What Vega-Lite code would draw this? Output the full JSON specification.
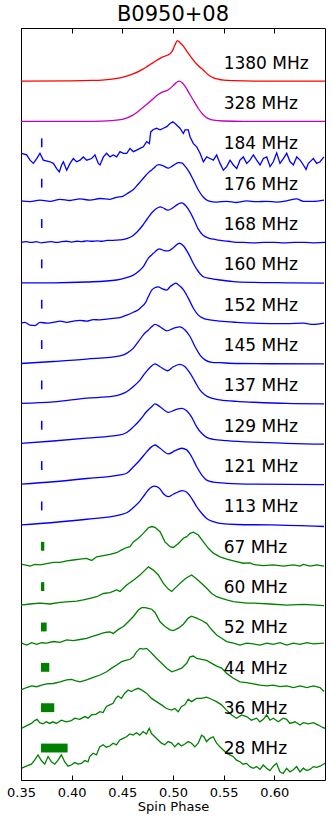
{
"$schema":"https://vega.github.io/schema/vega-lite/v6.json",
"width":304,"height":752,
"autosize":{"type":"none"},
"padding":{"left":21,"top":28,"right":7,"bottom":42},
"background":"white",
"config":{"view":{"stroke":"black","strokeWidth":1},"font":"DejaVu Sans"},
"title":{"text":"B0950+08","font":"DejaVu Sans","fontSize":21,"fontWeight":"normal","color":"black","anchor":"middle","offset":3},
"datasets":{
"p":[
{"f":"1380 MHz","x":0.35,"y":17.0},{"f":"1380 MHz","x":0.40,"y":17.005},{"f":"1380 MHz","x":0.42,"y":17.015},{"f":"1380 MHz","x":0.43,"y":17.025},{"f":"1380 MHz","x":0.44,"y":17.05},{"f":"1380 MHz","x":0.45,"y":17.09},{"f":"1380 MHz","x":0.46,"y":17.17},{"f":"1380 MHz","x":0.47,"y":17.29},{"f":"1380 MHz","x":0.475,"y":17.37},{"f":"1380 MHz","x":0.48,"y":17.45},{"f":"1380 MHz","x":0.485,"y":17.53},{"f":"1380 MHz","x":0.49,"y":17.6},{"f":"1380 MHz","x":0.495,"y":17.645},{"f":"1380 MHz","x":0.498,"y":17.7},{"f":"1380 MHz","x":0.5,"y":17.78},{"f":"1380 MHz","x":0.502,"y":17.9},{"f":"1380 MHz","x":0.5045,"y":18.0},{"f":"1380 MHz","x":0.507,"y":17.95},{"f":"1380 MHz","x":0.51,"y":17.87},{"f":"1380 MHz","x":0.515,"y":17.69},{"f":"1380 MHz","x":0.52,"y":17.52},{"f":"1380 MHz","x":0.525,"y":17.38},{"f":"1380 MHz","x":0.53,"y":17.27},{"f":"1380 MHz","x":0.535,"y":17.15},{"f":"1380 MHz","x":0.54,"y":17.08},{"f":"1380 MHz","x":0.545,"y":17.045},{"f":"1380 MHz","x":0.55,"y":17.025},{"f":"1380 MHz","x":0.56,"y":17.01},{"f":"1380 MHz","x":0.58,"y":17.0},{"f":"1380 MHz","x":0.65,"y":17.0},
{"f":"328 MHz","x":0.35,"y":16.0},{"f":"328 MHz","x":0.42,"y":16.0},{"f":"328 MHz","x":0.44,"y":16.02},{"f":"328 MHz","x":0.45,"y":16.05},{"f":"328 MHz","x":0.46,"y":16.15},{"f":"328 MHz","x":0.47,"y":16.34},{"f":"328 MHz","x":0.48,"y":16.55},{"f":"328 MHz","x":0.485,"y":16.66},{"f":"328 MHz","x":0.49,"y":16.73},{"f":"328 MHz","x":0.495,"y":16.78},{"f":"328 MHz","x":0.5,"y":16.88},{"f":"328 MHz","x":0.503,"y":16.96},{"f":"328 MHz","x":0.506,"y":17.0},{"f":"328 MHz","x":0.509,"y":16.96},{"f":"328 MHz","x":0.512,"y":16.87},{"f":"328 MHz","x":0.515,"y":16.74},{"f":"328 MHz","x":0.52,"y":16.53},{"f":"328 MHz","x":0.525,"y":16.32},{"f":"328 MHz","x":0.53,"y":16.16},{"f":"328 MHz","x":0.535,"y":16.07},{"f":"328 MHz","x":0.54,"y":16.03},{"f":"328 MHz","x":0.55,"y":16.01},{"f":"328 MHz","x":0.57,"y":16.0},{"f":"328 MHz","x":0.65,"y":16.0},
{"f":"184 MHz","x":0.3506,"y":15.21},{"f":"184 MHz","x":0.3556,"y":15.17},{"f":"184 MHz","x":0.3589,"y":15.04},{"f":"184 MHz","x":0.3622,"y":14.96},{"f":"184 MHz","x":0.3655,"y":15.08},{"f":"184 MHz","x":0.3687,"y":15.21},{"f":"184 MHz","x":0.372,"y":15.04},{"f":"184 MHz","x":0.3786,"y":15.0},{"f":"184 MHz","x":0.3819,"y":14.96},{"f":"184 MHz","x":0.3852,"y":14.83},{"f":"184 MHz","x":0.3878,"y":14.75},{"f":"184 MHz","x":0.3901,"y":14.92},{"f":"184 MHz","x":0.3918,"y":15.0},{"f":"184 MHz","x":0.3951,"y":14.79},{"f":"184 MHz","x":0.3984,"y":14.96},{"f":"184 MHz","x":0.4016,"y":15.08},{"f":"184 MHz","x":0.4049,"y":15.0},{"f":"184 MHz","x":0.4082,"y":15.04},{"f":"184 MHz","x":0.4115,"y":15.12},{"f":"184 MHz","x":0.4148,"y":15.04},{"f":"184 MHz","x":0.4197,"y":15.08},{"f":"184 MHz","x":0.423,"y":15.17},{"f":"184 MHz","x":0.4263,"y":14.96},{"f":"184 MHz","x":0.428,"y":14.92},{"f":"184 MHz","x":0.4313,"y":15.12},{"f":"184 MHz","x":0.4345,"y":15.21},{"f":"184 MHz","x":0.4378,"y":15.12},{"f":"184 MHz","x":0.4411,"y":15.17},{"f":"184 MHz","x":0.4444,"y":15.12},{"f":"184 MHz","x":0.4477,"y":15.25},{"f":"184 MHz","x":0.451,"y":15.21},{"f":"184 MHz","x":0.4543,"y":15.21},{"f":"184 MHz","x":0.4576,"y":15.33},{"f":"184 MHz","x":0.4609,"y":15.25},{"f":"184 MHz","x":0.4642,"y":15.29},{"f":"184 MHz","x":0.4674,"y":15.33},{"f":"184 MHz","x":0.4707,"y":15.37},{"f":"184 MHz","x":0.474,"y":15.5},{"f":"184 MHz","x":0.4767,"y":15.45},{"f":"184 MHz","x":0.478,"y":15.74},{"f":"184 MHz","x":0.4806,"y":15.8},{"f":"184 MHz","x":0.4839,"y":15.83},{"f":"184 MHz","x":0.4872,"y":15.79},{"f":"184 MHz","x":0.4905,"y":15.83},{"f":"184 MHz","x":0.4938,"y":15.87},{"f":"184 MHz","x":0.4971,"y":15.95},{"f":"184 MHz","x":0.4997,"y":15.99},{"f":"184 MHz","x":0.502,"y":15.95},{"f":"184 MHz","x":0.5036,"y":15.91},{"f":"184 MHz","x":0.5069,"y":15.83},{"f":"184 MHz","x":0.5102,"y":15.7},{"f":"184 MHz","x":0.5119,"y":15.79},{"f":"184 MHz","x":0.5151,"y":15.79},{"f":"184 MHz","x":0.5168,"y":15.62},{"f":"184 MHz","x":0.5201,"y":15.45},{"f":"184 MHz","x":0.5234,"y":15.37},{"f":"184 MHz","x":0.5267,"y":15.21},{"f":"184 MHz","x":0.53,"y":15.0},{"f":"184 MHz","x":0.5332,"y":15.12},{"f":"184 MHz","x":0.5365,"y":15.08},{"f":"184 MHz","x":0.5398,"y":15.04},{"f":"184 MHz","x":0.5431,"y":15.17},{"f":"184 MHz","x":0.5464,"y":14.96},{"f":"184 MHz","x":0.5497,"y":14.79},{"f":"184 MHz","x":0.553,"y":14.88},{"f":"184 MHz","x":0.5563,"y":15.04},{"f":"184 MHz","x":0.5596,"y":14.92},{"f":"184 MHz","x":0.5629,"y":14.83},{"f":"184 MHz","x":0.5661,"y":15.04},{"f":"184 MHz","x":0.5694,"y":15.12},{"f":"184 MHz","x":0.5727,"y":14.96},{"f":"184 MHz","x":0.576,"y":15.04},{"f":"184 MHz","x":0.5793,"y":15.17},{"f":"184 MHz","x":0.5826,"y":15.04},{"f":"184 MHz","x":0.5859,"y":14.92},{"f":"184 MHz","x":0.5892,"y":15.08},{"f":"184 MHz","x":0.5925,"y":15.12},{"f":"184 MHz","x":0.5958,"y":14.88},{"f":"184 MHz","x":0.599,"y":15.0},{"f":"184 MHz","x":0.6023,"y":15.22},{"f":"184 MHz","x":0.6056,"y":14.96},{"f":"184 MHz","x":0.6089,"y":15.08},{"f":"184 MHz","x":0.6122,"y":15.21},{"f":"184 MHz","x":0.6155,"y":15.0},{"f":"184 MHz","x":0.6188,"y":14.92},{"f":"184 MHz","x":0.6221,"y":15.12},{"f":"184 MHz","x":0.6254,"y":15.04},{"f":"184 MHz","x":0.6287,"y":14.92},{"f":"184 MHz","x":0.6313,"y":14.81},{"f":"184 MHz","x":0.6336,"y":14.96},{"f":"184 MHz","x":0.6369,"y":15.04},{"f":"184 MHz","x":0.6385,"y":15.08},{"f":"184 MHz","x":0.6418,"y":14.96},{"f":"184 MHz","x":0.6451,"y":15.0},{"f":"184 MHz","x":0.649,"y":15.12},
{"f":"176 MHz","x":0.35,"y":14.03},{"f":"176 MHz","x":0.3589,"y":14.01},{"f":"176 MHz","x":0.3687,"y":14.05},{"f":"176 MHz","x":0.3786,"y":14.02},{"f":"176 MHz","x":0.3885,"y":14.07},{"f":"176 MHz","x":0.3984,"y":14.04},{"f":"176 MHz","x":0.4082,"y":14.08},{"f":"176 MHz","x":0.4181,"y":14.05},{"f":"176 MHz","x":0.428,"y":14.09},{"f":"176 MHz","x":0.4378,"y":14.07},{"f":"176 MHz","x":0.4444,"y":14.12},{"f":"176 MHz","x":0.451,"y":14.15},{"f":"176 MHz","x":0.4559,"y":14.23},{"f":"176 MHz","x":0.4609,"y":14.31},{"f":"176 MHz","x":0.4658,"y":14.45},{"f":"176 MHz","x":0.4707,"y":14.59},{"f":"176 MHz","x":0.4757,"y":14.73},{"f":"176 MHz","x":0.4806,"y":14.83},{"f":"176 MHz","x":0.4855,"y":14.93},{"f":"176 MHz","x":0.4905,"y":14.9},{"f":"176 MHz","x":0.4954,"y":14.84},{"f":"176 MHz","x":0.5003,"y":14.91},{"f":"176 MHz","x":0.5053,"y":14.98},{"f":"176 MHz","x":0.5086,"y":14.97},{"f":"176 MHz","x":0.5119,"y":14.89},{"f":"176 MHz","x":0.5151,"y":14.78},{"f":"176 MHz","x":0.5201,"y":14.55},{"f":"176 MHz","x":0.525,"y":14.3},{"f":"176 MHz","x":0.53,"y":14.12},{"f":"176 MHz","x":0.5349,"y":14.03},{"f":"176 MHz","x":0.5431,"y":14.0},{"f":"176 MHz","x":0.553,"y":14.02},{"f":"176 MHz","x":0.5629,"y":13.99},{"f":"176 MHz","x":0.5727,"y":14.03},{"f":"176 MHz","x":0.5826,"y":14.01},{"f":"176 MHz","x":0.5925,"y":14.02},{"f":"176 MHz","x":0.6023,"y":14.0},{"f":"176 MHz","x":0.6122,"y":14.03},{"f":"176 MHz","x":0.6221,"y":14.08},{"f":"176 MHz","x":0.6287,"y":14.02},{"f":"176 MHz","x":0.6385,"y":14.02},{"f":"176 MHz","x":0.649,"y":14.05},
{"f":"168 MHz","x":0.35,"y":13.0},{"f":"168 MHz","x":0.355,"y":13.02},{"f":"168 MHz","x":0.36,"y":13.0},{"f":"168 MHz","x":0.365,"y":13.02},{"f":"168 MHz","x":0.37,"y":12.99},{"f":"168 MHz","x":0.375,"y":13.01},{"f":"168 MHz","x":0.38,"y":13.02},{"f":"168 MHz","x":0.385,"y":13.0},{"f":"168 MHz","x":0.39,"y":13.02},{"f":"168 MHz","x":0.395,"y":13.03},{"f":"168 MHz","x":0.4,"y":13.01},{"f":"168 MHz","x":0.405,"y":13.03},{"f":"168 MHz","x":0.41,"y":13.02},{"f":"168 MHz","x":0.415,"y":13.04},{"f":"168 MHz","x":0.42,"y":13.03},{"f":"168 MHz","x":0.425,"y":13.04},{"f":"168 MHz","x":0.43,"y":13.03},{"f":"168 MHz","x":0.435,"y":13.05},{"f":"168 MHz","x":0.44,"y":13.05},{"f":"168 MHz","x":0.445,"y":13.06},{"f":"168 MHz","x":0.45,"y":13.07},{"f":"168 MHz","x":0.455,"y":13.1},{"f":"168 MHz","x":0.46,"y":13.16},{"f":"168 MHz","x":0.465,"y":13.27},{"f":"168 MHz","x":0.47,"y":13.42},{"f":"168 MHz","x":0.475,"y":13.6},{"f":"168 MHz","x":0.48,"y":13.76},{"f":"168 MHz","x":0.485,"y":13.86},{"f":"168 MHz","x":0.4875,"y":13.88},{"f":"168 MHz","x":0.49,"y":13.86},{"f":"168 MHz","x":0.495,"y":13.8},{"f":"168 MHz","x":0.5,"y":13.86},{"f":"168 MHz","x":0.505,"y":13.95},{"f":"168 MHz","x":0.5085,"y":13.98},{"f":"168 MHz","x":0.511,"y":13.95},{"f":"168 MHz","x":0.515,"y":13.83},{"f":"168 MHz","x":0.52,"y":13.6},{"f":"168 MHz","x":0.525,"y":13.33},{"f":"168 MHz","x":0.53,"y":13.17},{"f":"168 MHz","x":0.535,"y":13.11},{"f":"168 MHz","x":0.54,"y":13.08},{"f":"168 MHz","x":0.545,"y":13.06},{"f":"168 MHz","x":0.55,"y":13.04},{"f":"168 MHz","x":0.555,"y":13.03},{"f":"168 MHz","x":0.56,"y":13.01},{"f":"168 MHz","x":0.57,"y":13.0},{"f":"168 MHz","x":0.58,"y":12.99},{"f":"168 MHz","x":0.59,"y":13.0},{"f":"168 MHz","x":0.6,"y":13.0},{"f":"168 MHz","x":0.61,"y":12.99},{"f":"168 MHz","x":0.62,"y":13.0},{"f":"168 MHz","x":0.63,"y":13.0},{"f":"168 MHz","x":0.64,"y":12.99},{"f":"168 MHz","x":0.65,"y":13.0},
{"f":"160 MHz","x":0.35,"y":12.0},{"f":"160 MHz","x":0.382,"y":12.0},{"f":"160 MHz","x":0.4148,"y":12.02},{"f":"160 MHz","x":0.4444,"y":12.07},{"f":"160 MHz","x":0.4543,"y":12.13},{"f":"160 MHz","x":0.4609,"y":12.19},{"f":"160 MHz","x":0.4658,"y":12.28},{"f":"160 MHz","x":0.4707,"y":12.4},{"f":"160 MHz","x":0.4757,"y":12.61},{"f":"160 MHz","x":0.4806,"y":12.73},{"f":"160 MHz","x":0.4865,"y":12.84},{"f":"160 MHz","x":0.4911,"y":12.8},{"f":"160 MHz","x":0.4954,"y":12.79},{"f":"160 MHz","x":0.5003,"y":12.87},{"f":"160 MHz","x":0.5063,"y":12.98},{"f":"160 MHz","x":0.5102,"y":12.92},{"f":"160 MHz","x":0.5151,"y":12.73},{"f":"160 MHz","x":0.5201,"y":12.48},{"f":"160 MHz","x":0.525,"y":12.28},{"f":"160 MHz","x":0.53,"y":12.15},{"f":"160 MHz","x":0.5365,"y":12.11},{"f":"160 MHz","x":0.5464,"y":12.07},{"f":"160 MHz","x":0.5596,"y":12.03},{"f":"160 MHz","x":0.5793,"y":12.01},{"f":"160 MHz","x":0.6122,"y":12.0},{"f":"160 MHz","x":0.649,"y":11.99},
{"f":"152 MHz","x":0.35,"y":11.0},{"f":"152 MHz","x":0.3539,"y":11.02},{"f":"152 MHz","x":0.3589,"y":10.95},{"f":"152 MHz","x":0.3638,"y":10.94},{"f":"152 MHz","x":0.3687,"y":11.02},{"f":"152 MHz","x":0.3753,"y":11.0},{"f":"152 MHz","x":0.3819,"y":11.02},{"f":"152 MHz","x":0.3885,"y":11.05},{"f":"152 MHz","x":0.3951,"y":11.02},{"f":"152 MHz","x":0.4016,"y":11.05},{"f":"152 MHz","x":0.4082,"y":11.07},{"f":"152 MHz","x":0.4148,"y":11.05},{"f":"152 MHz","x":0.4214,"y":11.09},{"f":"152 MHz","x":0.428,"y":11.08},{"f":"152 MHz","x":0.4345,"y":11.1},{"f":"152 MHz","x":0.4411,"y":11.12},{"f":"152 MHz","x":0.4477,"y":11.14},{"f":"152 MHz","x":0.4543,"y":11.2},{"f":"152 MHz","x":0.4609,"y":11.27},{"f":"152 MHz","x":0.4658,"y":11.33},{"f":"152 MHz","x":0.4691,"y":11.41},{"f":"152 MHz","x":0.4724,"y":11.49},{"f":"152 MHz","x":0.4757,"y":11.66},{"f":"152 MHz","x":0.479,"y":11.82},{"f":"152 MHz","x":0.4822,"y":11.88},{"f":"152 MHz","x":0.4855,"y":11.9},{"f":"152 MHz","x":0.4888,"y":11.86},{"f":"152 MHz","x":0.4938,"y":11.82},{"f":"152 MHz","x":0.4971,"y":11.9},{"f":"152 MHz","x":0.5003,"y":11.96},{"f":"152 MHz","x":0.5026,"y":11.99},{"f":"152 MHz","x":0.5053,"y":11.95},{"f":"152 MHz","x":0.5102,"y":11.83},{"f":"152 MHz","x":0.5151,"y":11.62},{"f":"152 MHz","x":0.5201,"y":11.37},{"f":"152 MHz","x":0.525,"y":11.2},{"f":"152 MHz","x":0.53,"y":11.12},{"f":"152 MHz","x":0.5365,"y":11.08},{"f":"152 MHz","x":0.5464,"y":11.05},{"f":"152 MHz","x":0.5629,"y":11.02},{"f":"152 MHz","x":0.5793,"y":11.0},{"f":"152 MHz","x":0.5958,"y":10.99},{"f":"152 MHz","x":0.6122,"y":10.99},{"f":"152 MHz","x":0.6287,"y":11.0},{"f":"152 MHz","x":0.6385,"y":10.97},{"f":"152 MHz","x":0.649,"y":11.0},
{"f":"145 MHz","x":0.35,"y":10.0},{"f":"145 MHz","x":0.3819,"y":10.05},{"f":"145 MHz","x":0.4148,"y":10.11},{"f":"145 MHz","x":0.4477,"y":10.19},{"f":"145 MHz","x":0.4543,"y":10.25},{"f":"145 MHz","x":0.4609,"y":10.38},{"f":"145 MHz","x":0.4658,"y":10.54},{"f":"145 MHz","x":0.4707,"y":10.71},{"f":"145 MHz","x":0.4757,"y":10.83},{"f":"145 MHz","x":0.479,"y":10.91},{"f":"145 MHz","x":0.4822,"y":10.97},{"f":"145 MHz","x":0.4872,"y":10.91},{"f":"145 MHz","x":0.4938,"y":10.81},{"f":"145 MHz","x":0.5003,"y":10.87},{"f":"145 MHz","x":0.5069,"y":10.91},{"f":"145 MHz","x":0.5119,"y":10.83},{"f":"145 MHz","x":0.5168,"y":10.67},{"f":"145 MHz","x":0.5217,"y":10.42},{"f":"145 MHz","x":0.5267,"y":10.21},{"f":"145 MHz","x":0.5316,"y":10.09},{"f":"145 MHz","x":0.5382,"y":10.03},{"f":"145 MHz","x":0.5464,"y":10.02},{"f":"145 MHz","x":0.5629,"y":10.0},{"f":"145 MHz","x":0.649,"y":9.99},
{"f":"137 MHz","x":0.35,"y":9.01},{"f":"137 MHz","x":0.3819,"y":9.05},{"f":"137 MHz","x":0.4148,"y":9.14},{"f":"137 MHz","x":0.4411,"y":9.19},{"f":"137 MHz","x":0.4477,"y":9.23},{"f":"137 MHz","x":0.4543,"y":9.3},{"f":"137 MHz","x":0.4609,"y":9.43},{"f":"137 MHz","x":0.4674,"y":9.59},{"f":"137 MHz","x":0.4724,"y":9.76},{"f":"137 MHz","x":0.4773,"y":9.9},{"f":"137 MHz","x":0.4822,"y":9.99},{"f":"137 MHz","x":0.4872,"y":9.92},{"f":"137 MHz","x":0.4948,"y":9.82},{"f":"137 MHz","x":0.5003,"y":9.92},{"f":"137 MHz","x":0.5069,"y":9.98},{"f":"137 MHz","x":0.5119,"y":9.92},{"f":"137 MHz","x":0.5168,"y":9.76},{"f":"137 MHz","x":0.5217,"y":9.55},{"f":"137 MHz","x":0.5267,"y":9.34},{"f":"137 MHz","x":0.5316,"y":9.22},{"f":"137 MHz","x":0.5382,"y":9.14},{"f":"137 MHz","x":0.5464,"y":9.1},{"f":"137 MHz","x":0.5629,"y":9.06},{"f":"137 MHz","x":0.5793,"y":9.04},{"f":"137 MHz","x":0.6122,"y":9.01},{"f":"137 MHz","x":0.649,"y":9.0},
{"f":"129 MHz","x":0.35,"y":8.02},{"f":"129 MHz","x":0.3819,"y":8.08},{"f":"129 MHz","x":0.4148,"y":8.15},{"f":"129 MHz","x":0.4477,"y":8.23},{"f":"129 MHz","x":0.4543,"y":8.29},{"f":"129 MHz","x":0.4609,"y":8.43},{"f":"129 MHz","x":0.4674,"y":8.6},{"f":"129 MHz","x":0.474,"y":8.81},{"f":"129 MHz","x":0.479,"y":8.93},{"f":"129 MHz","x":0.4822,"y":9.0},{"f":"129 MHz","x":0.4872,"y":8.93},{"f":"129 MHz","x":0.4954,"y":8.79},{"f":"129 MHz","x":0.502,"y":8.85},{"f":"129 MHz","x":0.5086,"y":8.89},{"f":"129 MHz","x":0.5135,"y":8.83},{"f":"129 MHz","x":0.5184,"y":8.67},{"f":"129 MHz","x":0.5234,"y":8.43},{"f":"129 MHz","x":0.5283,"y":8.27},{"f":"129 MHz","x":0.5332,"y":8.17},{"f":"129 MHz","x":0.5398,"y":8.12},{"f":"129 MHz","x":0.553,"y":8.09},{"f":"129 MHz","x":0.5793,"y":8.05},{"f":"129 MHz","x":0.6122,"y":8.02},{"f":"129 MHz","x":0.649,"y":8.0},
{"f":"121 MHz","x":0.35,"y":7.01},{"f":"121 MHz","x":0.3819,"y":7.07},{"f":"121 MHz","x":0.4148,"y":7.15},{"f":"121 MHz","x":0.4477,"y":7.24},{"f":"121 MHz","x":0.4543,"y":7.28},{"f":"121 MHz","x":0.4609,"y":7.44},{"f":"121 MHz","x":0.4674,"y":7.61},{"f":"121 MHz","x":0.474,"y":7.81},{"f":"121 MHz","x":0.479,"y":7.94},{"f":"121 MHz","x":0.4822,"y":7.98},{"f":"121 MHz","x":0.4872,"y":7.9},{"f":"121 MHz","x":0.4954,"y":7.76},{"f":"121 MHz","x":0.502,"y":7.84},{"f":"121 MHz","x":0.5086,"y":7.9},{"f":"121 MHz","x":0.5135,"y":7.86},{"f":"121 MHz","x":0.5184,"y":7.69},{"f":"121 MHz","x":0.5234,"y":7.44},{"f":"121 MHz","x":0.5283,"y":7.24},{"f":"121 MHz","x":0.5332,"y":7.11},{"f":"121 MHz","x":0.5398,"y":7.06},{"f":"121 MHz","x":0.553,"y":7.03},{"f":"121 MHz","x":0.5793,"y":7.01},{"f":"121 MHz","x":0.649,"y":7.0},
{"f":"113 MHz","x":0.35,"y":6.0},{"f":"113 MHz","x":0.3819,"y":6.06},{"f":"113 MHz","x":0.4148,"y":6.14},{"f":"113 MHz","x":0.4477,"y":6.25},{"f":"113 MHz","x":0.4543,"y":6.3},{"f":"113 MHz","x":0.4609,"y":6.43},{"f":"113 MHz","x":0.4674,"y":6.59},{"f":"113 MHz","x":0.4724,"y":6.76},{"f":"113 MHz","x":0.4773,"y":6.91},{"f":"113 MHz","x":0.4816,"y":6.96},{"f":"113 MHz","x":0.4865,"y":6.91},{"f":"113 MHz","x":0.4911,"y":6.76},{"f":"113 MHz","x":0.4954,"y":6.7},{"f":"113 MHz","x":0.5003,"y":6.76},{"f":"113 MHz","x":0.5053,"y":6.82},{"f":"113 MHz","x":0.5092,"y":6.85},{"f":"113 MHz","x":0.5135,"y":6.81},{"f":"113 MHz","x":0.5184,"y":6.66},{"f":"113 MHz","x":0.5234,"y":6.45},{"f":"113 MHz","x":0.5283,"y":6.29},{"f":"113 MHz","x":0.5332,"y":6.16},{"f":"113 MHz","x":0.5398,"y":6.08},{"f":"113 MHz","x":0.5464,"y":6.04},{"f":"113 MHz","x":0.5629,"y":6.01},{"f":"113 MHz","x":0.5958,"y":6.0},{"f":"113 MHz","x":0.649,"y":5.96},
{"f":"67 MHz","x":0.3506,"y":5.02},{"f":"67 MHz","x":0.3539,"y":5.01},{"f":"67 MHz","x":0.3589,"y":4.98},{"f":"67 MHz","x":0.3638,"y":5.02},{"f":"67 MHz","x":0.3687,"y":5.01},{"f":"67 MHz","x":0.3753,"y":5.04},{"f":"67 MHz","x":0.3819,"y":5.07},{"f":"67 MHz","x":0.3885,"y":5.07},{"f":"67 MHz","x":0.3951,"y":5.11},{"f":"67 MHz","x":0.4016,"y":5.13},{"f":"67 MHz","x":0.4082,"y":5.15},{"f":"67 MHz","x":0.4148,"y":5.17},{"f":"67 MHz","x":0.4197,"y":5.12},{"f":"67 MHz","x":0.4247,"y":5.21},{"f":"67 MHz","x":0.4313,"y":5.24},{"f":"67 MHz","x":0.4378,"y":5.27},{"f":"67 MHz","x":0.4444,"y":5.31},{"f":"67 MHz","x":0.4493,"y":5.38},{"f":"67 MHz","x":0.4543,"y":5.44},{"f":"67 MHz","x":0.4576,"y":5.46},{"f":"67 MHz","x":0.4609,"y":5.58},{"f":"67 MHz","x":0.4658,"y":5.67},{"f":"67 MHz","x":0.4707,"y":5.79},{"f":"67 MHz","x":0.4757,"y":5.93},{"f":"67 MHz","x":0.479,"y":5.96},{"f":"67 MHz","x":0.4822,"y":5.94},{"f":"67 MHz","x":0.4872,"y":5.83},{"f":"67 MHz","x":0.4921,"y":5.58},{"f":"67 MHz","x":0.4971,"y":5.46},{"f":"67 MHz","x":0.5003,"y":5.44},{"f":"67 MHz","x":0.5053,"y":5.54},{"f":"67 MHz","x":0.5102,"y":5.67},{"f":"67 MHz","x":0.5135,"y":5.71},{"f":"67 MHz","x":0.5168,"y":5.79},{"f":"67 MHz","x":0.5201,"y":5.82},{"f":"67 MHz","x":0.525,"y":5.75},{"f":"67 MHz","x":0.53,"y":5.58},{"f":"67 MHz","x":0.5349,"y":5.42},{"f":"67 MHz","x":0.5398,"y":5.3},{"f":"67 MHz","x":0.5464,"y":5.21},{"f":"67 MHz","x":0.553,"y":5.15},{"f":"67 MHz","x":0.5596,"y":5.11},{"f":"67 MHz","x":0.5694,"y":5.05},{"f":"67 MHz","x":0.576,"y":5.06},{"f":"67 MHz","x":0.5793,"y":5.02},{"f":"67 MHz","x":0.589,"y":4.99},{"f":"67 MHz","x":0.599,"y":5.01},{"f":"67 MHz","x":0.6089,"y":4.98},{"f":"67 MHz","x":0.6188,"y":5.01},{"f":"67 MHz","x":0.6254,"y":4.98},{"f":"67 MHz","x":0.6287,"y":5.02},{"f":"67 MHz","x":0.6352,"y":4.98},{"f":"67 MHz","x":0.6418,"y":5.01},{"f":"67 MHz","x":0.649,"y":4.98},
{"f":"60 MHz","x":0.35,"y":4.01},{"f":"60 MHz","x":0.3589,"y":4.04},{"f":"60 MHz","x":0.3687,"y":4.06},{"f":"60 MHz","x":0.3786,"y":4.04},{"f":"60 MHz","x":0.3885,"y":4.08},{"f":"60 MHz","x":0.3984,"y":4.1},{"f":"60 MHz","x":0.4049,"y":4.11},{"f":"60 MHz","x":0.4115,"y":4.14},{"f":"60 MHz","x":0.4181,"y":4.18},{"f":"60 MHz","x":0.4247,"y":4.22},{"f":"60 MHz","x":0.4313,"y":4.3},{"f":"60 MHz","x":0.4378,"y":4.32},{"f":"60 MHz","x":0.4444,"y":4.39},{"f":"60 MHz","x":0.4477,"y":4.35},{"f":"60 MHz","x":0.4543,"y":4.51},{"f":"60 MHz","x":0.4609,"y":4.63},{"f":"60 MHz","x":0.4674,"y":4.76},{"f":"60 MHz","x":0.4724,"y":4.88},{"f":"60 MHz","x":0.4757,"y":4.96},{"f":"60 MHz","x":0.4806,"y":4.88},{"f":"60 MHz","x":0.4855,"y":4.76},{"f":"60 MHz","x":0.4905,"y":4.55},{"f":"60 MHz","x":0.4954,"y":4.41},{"f":"60 MHz","x":0.4987,"y":4.35},{"f":"60 MHz","x":0.5036,"y":4.47},{"f":"60 MHz","x":0.5086,"y":4.59},{"f":"60 MHz","x":0.5135,"y":4.69},{"f":"60 MHz","x":0.5184,"y":4.76},{"f":"60 MHz","x":0.5234,"y":4.66},{"f":"60 MHz","x":0.5283,"y":4.55},{"f":"60 MHz","x":0.5332,"y":4.43},{"f":"60 MHz","x":0.5382,"y":4.3},{"f":"60 MHz","x":0.5431,"y":4.22},{"f":"60 MHz","x":0.548,"y":4.18},{"f":"60 MHz","x":0.553,"y":4.14},{"f":"60 MHz","x":0.5596,"y":4.1},{"f":"60 MHz","x":0.5661,"y":4.08},{"f":"60 MHz","x":0.5727,"y":4.06},{"f":"60 MHz","x":0.5793,"y":4.06},{"f":"60 MHz","x":0.5958,"y":4.04},{"f":"60 MHz","x":0.6122,"y":4.01},{"f":"60 MHz","x":0.6287,"y":4.03},{"f":"60 MHz","x":0.649,"y":4.0},
{"f":"52 MHz","x":0.3506,"y":3.07},{"f":"52 MHz","x":0.3556,"y":3.02},{"f":"52 MHz","x":0.3605,"y":3.08},{"f":"52 MHz","x":0.3655,"y":3.04},{"f":"52 MHz","x":0.3704,"y":3.08},{"f":"52 MHz","x":0.3753,"y":3.07},{"f":"52 MHz","x":0.3819,"y":3.11},{"f":"52 MHz","x":0.3885,"y":3.09},{"f":"52 MHz","x":0.3951,"y":3.15},{"f":"52 MHz","x":0.4016,"y":3.13},{"f":"52 MHz","x":0.4082,"y":3.16},{"f":"52 MHz","x":0.4148,"y":3.19},{"f":"52 MHz","x":0.4197,"y":3.23},{"f":"52 MHz","x":0.4247,"y":3.27},{"f":"52 MHz","x":0.4296,"y":3.31},{"f":"52 MHz","x":0.4345,"y":3.34},{"f":"52 MHz","x":0.4378,"y":3.35},{"f":"52 MHz","x":0.4411,"y":3.31},{"f":"52 MHz","x":0.4461,"y":3.41},{"f":"52 MHz","x":0.451,"y":3.48},{"f":"52 MHz","x":0.4559,"y":3.6},{"f":"52 MHz","x":0.4609,"y":3.73},{"f":"52 MHz","x":0.4658,"y":3.89},{"f":"52 MHz","x":0.4691,"y":3.95},{"f":"52 MHz","x":0.4724,"y":3.95},{"f":"52 MHz","x":0.4757,"y":3.93},{"f":"52 MHz","x":0.479,"y":3.91},{"f":"52 MHz","x":0.4822,"y":3.83},{"f":"52 MHz","x":0.4872,"y":3.6},{"f":"52 MHz","x":0.4921,"y":3.48},{"f":"52 MHz","x":0.4971,"y":3.4},{"f":"52 MHz","x":0.5003,"y":3.38},{"f":"52 MHz","x":0.5053,"y":3.44},{"f":"52 MHz","x":0.5102,"y":3.54},{"f":"52 MHz","x":0.5151,"y":3.69},{"f":"52 MHz","x":0.5184,"y":3.74},{"f":"52 MHz","x":0.5234,"y":3.69},{"f":"52 MHz","x":0.5283,"y":3.63},{"f":"52 MHz","x":0.5332,"y":3.56},{"f":"52 MHz","x":0.5382,"y":3.4},{"f":"52 MHz","x":0.5431,"y":3.27},{"f":"52 MHz","x":0.548,"y":3.19},{"f":"52 MHz","x":0.553,"y":3.11},{"f":"52 MHz","x":0.5596,"y":3.07},{"f":"52 MHz","x":0.5661,"y":3.02},{"f":"52 MHz","x":0.5727,"y":3.07},{"f":"52 MHz","x":0.5793,"y":3.05},{"f":"52 MHz","x":0.5859,"y":3.02},{"f":"52 MHz","x":0.5925,"y":3.07},{"f":"52 MHz","x":0.599,"y":3.04},{"f":"52 MHz","x":0.6056,"y":3.08},{"f":"52 MHz","x":0.6122,"y":3.02},{"f":"52 MHz","x":0.6188,"y":3.07},{"f":"52 MHz","x":0.6254,"y":3.04},{"f":"52 MHz","x":0.632,"y":3.08},{"f":"52 MHz","x":0.6385,"y":3.05},{"f":"52 MHz","x":0.649,"y":3.07},
{"f":"44 MHz","x":0.3506,"y":1.92},{"f":"44 MHz","x":0.3556,"y":1.97},{"f":"44 MHz","x":0.3605,"y":2.01},{"f":"44 MHz","x":0.3655,"y":1.99},{"f":"44 MHz","x":0.3704,"y":2.03},{"f":"44 MHz","x":0.3753,"y":2.06},{"f":"44 MHz","x":0.3819,"y":2.07},{"f":"44 MHz","x":0.3885,"y":2.11},{"f":"44 MHz","x":0.3951,"y":2.16},{"f":"44 MHz","x":0.4,"y":2.17},{"f":"44 MHz","x":0.4033,"y":2.14},{"f":"44 MHz","x":0.4082,"y":2.11},{"f":"44 MHz","x":0.4148,"y":2.16},{"f":"44 MHz","x":0.4214,"y":2.22},{"f":"44 MHz","x":0.428,"y":2.28},{"f":"44 MHz","x":0.4345,"y":2.36},{"f":"44 MHz","x":0.4395,"y":2.45},{"f":"44 MHz","x":0.4444,"y":2.53},{"f":"44 MHz","x":0.4493,"y":2.61},{"f":"44 MHz","x":0.4543,"y":2.65},{"f":"44 MHz","x":0.4576,"y":2.67},{"f":"44 MHz","x":0.4609,"y":2.73},{"f":"44 MHz","x":0.4642,"y":2.86},{"f":"44 MHz","x":0.4674,"y":2.94},{"f":"44 MHz","x":0.4707,"y":2.92},{"f":"44 MHz","x":0.474,"y":2.94},{"f":"44 MHz","x":0.479,"y":2.82},{"f":"44 MHz","x":0.4839,"y":2.69},{"f":"44 MHz","x":0.4888,"y":2.57},{"f":"44 MHz","x":0.4938,"y":2.45},{"f":"44 MHz","x":0.4987,"y":2.36},{"f":"44 MHz","x":0.5036,"y":2.4},{"f":"44 MHz","x":0.5086,"y":2.45},{"f":"44 MHz","x":0.5135,"y":2.57},{"f":"44 MHz","x":0.5168,"y":2.73},{"f":"44 MHz","x":0.5201,"y":2.75},{"f":"44 MHz","x":0.5234,"y":2.69},{"f":"44 MHz","x":0.5283,"y":2.67},{"f":"44 MHz","x":0.5332,"y":2.64},{"f":"44 MHz","x":0.5382,"y":2.57},{"f":"44 MHz","x":0.5431,"y":2.5},{"f":"44 MHz","x":0.548,"y":2.45},{"f":"44 MHz","x":0.553,"y":2.32},{"f":"44 MHz","x":0.5596,"y":2.2},{"f":"44 MHz","x":0.5661,"y":2.11},{"f":"44 MHz","x":0.5727,"y":2.09},{"f":"44 MHz","x":0.5793,"y":2.06},{"f":"44 MHz","x":0.5859,"y":2.03},{"f":"44 MHz","x":0.5925,"y":2.01},{"f":"44 MHz","x":0.599,"y":2.03},{"f":"44 MHz","x":0.6056,"y":1.99},{"f":"44 MHz","x":0.6122,"y":2.01},{"f":"44 MHz","x":0.6188,"y":1.97},{"f":"44 MHz","x":0.6254,"y":2.01},{"f":"44 MHz","x":0.632,"y":1.97},{"f":"44 MHz","x":0.6385,"y":2.01},{"f":"44 MHz","x":0.6451,"y":1.97},{"f":"44 MHz","x":0.649,"y":1.87},
{"f":"36 MHz","x":0.3507,"y":0.96},{"f":"36 MHz","x":0.3553,"y":1.02},{"f":"36 MHz","x":0.3602,"y":1.08},{"f":"36 MHz","x":0.3635,"y":1.15},{"f":"36 MHz","x":0.3658,"y":1.18},{"f":"36 MHz","x":0.3684,"y":1.1},{"f":"36 MHz","x":0.3717,"y":1.07},{"f":"36 MHz","x":0.375,"y":1.12},{"f":"36 MHz","x":0.3783,"y":1.08},{"f":"36 MHz","x":0.3816,"y":1.12},{"f":"36 MHz","x":0.3849,"y":1.08},{"f":"36 MHz","x":0.3898,"y":1.16},{"f":"36 MHz","x":0.3948,"y":1.12},{"f":"36 MHz","x":0.3997,"y":1.15},{"f":"36 MHz","x":0.403,"y":1.21},{"f":"36 MHz","x":0.408,"y":1.18},{"f":"36 MHz","x":0.4129,"y":1.25},{"f":"36 MHz","x":0.4162,"y":1.21},{"f":"36 MHz","x":0.4195,"y":1.29},{"f":"36 MHz","x":0.4244,"y":1.31},{"f":"36 MHz","x":0.4277,"y":1.37},{"f":"36 MHz","x":0.431,"y":1.35},{"f":"36 MHz","x":0.4343,"y":1.5},{"f":"36 MHz","x":0.4376,"y":1.54},{"f":"36 MHz","x":0.4409,"y":1.58},{"f":"36 MHz","x":0.4435,"y":1.7},{"f":"36 MHz","x":0.4458,"y":1.76},{"f":"36 MHz","x":0.4491,"y":1.7},{"f":"36 MHz","x":0.4524,"y":1.83},{"f":"36 MHz","x":0.4557,"y":1.91},{"f":"36 MHz","x":0.459,"y":1.87},{"f":"36 MHz","x":0.4623,"y":1.92},{"f":"36 MHz","x":0.4656,"y":1.95},{"f":"36 MHz","x":0.4689,"y":1.91},{"f":"36 MHz","x":0.4738,"y":1.83},{"f":"36 MHz","x":0.4788,"y":1.7},{"f":"36 MHz","x":0.4837,"y":1.62},{"f":"36 MHz","x":0.4886,"y":1.54},{"f":"36 MHz","x":0.4936,"y":1.45},{"f":"36 MHz","x":0.4985,"y":1.41},{"f":"36 MHz","x":0.5018,"y":1.45},{"f":"36 MHz","x":0.5051,"y":1.37},{"f":"36 MHz","x":0.5084,"y":1.5},{"f":"36 MHz","x":0.5117,"y":1.54},{"f":"36 MHz","x":0.515,"y":1.68},{"f":"36 MHz","x":0.5183,"y":1.62},{"f":"36 MHz","x":0.5232,"y":1.7},{"f":"36 MHz","x":0.5282,"y":1.7},{"f":"36 MHz","x":0.5331,"y":1.73},{"f":"36 MHz","x":0.538,"y":1.68},{"f":"36 MHz","x":0.543,"y":1.62},{"f":"36 MHz","x":0.5479,"y":1.54},{"f":"36 MHz","x":0.5528,"y":1.41},{"f":"36 MHz","x":0.5578,"y":1.29},{"f":"36 MHz","x":0.5627,"y":1.21},{"f":"36 MHz","x":0.5677,"y":1.29},{"f":"36 MHz","x":0.5726,"y":1.25},{"f":"36 MHz","x":0.5775,"y":1.16},{"f":"36 MHz","x":0.5825,"y":1.21},{"f":"36 MHz","x":0.5858,"y":1.12},{"f":"36 MHz","x":0.5891,"y":1.18},{"f":"36 MHz","x":0.5924,"y":1.29},{"f":"36 MHz","x":0.5957,"y":1.16},{"f":"36 MHz","x":0.599,"y":1.21},{"f":"36 MHz","x":0.6039,"y":1.12},{"f":"36 MHz","x":0.6088,"y":1.21},{"f":"36 MHz","x":0.6121,"y":1.18},{"f":"36 MHz","x":0.6154,"y":1.08},{"f":"36 MHz","x":0.6204,"y":1.12},{"f":"36 MHz","x":0.6253,"y":1.04},{"f":"36 MHz","x":0.6286,"y":1.1},{"f":"36 MHz","x":0.6335,"y":1.07},{"f":"36 MHz","x":0.6385,"y":1.1},{"f":"36 MHz","x":0.6434,"y":1.04},{"f":"36 MHz","x":0.6477,"y":0.98},{"f":"36 MHz","x":0.65,"y":0.96},
{"f":"28 MHz","x":0.3507,"y":-0.03},{"f":"28 MHz","x":0.3553,"y":0.02},{"f":"28 MHz","x":0.3602,"y":0.07},{"f":"28 MHz","x":0.3635,"y":0.17},{"f":"28 MHz","x":0.3668,"y":0.3},{"f":"28 MHz","x":0.3701,"y":0.16},{"f":"28 MHz","x":0.3734,"y":0.07},{"f":"28 MHz","x":0.3767,"y":0.26},{"f":"28 MHz","x":0.38,"y":0.13},{"f":"28 MHz","x":0.3833,"y":0.07},{"f":"28 MHz","x":0.3866,"y":0.17},{"f":"28 MHz","x":0.3898,"y":0.3},{"f":"28 MHz","x":0.3931,"y":0.13},{"f":"28 MHz","x":0.3964,"y":0.02},{"f":"28 MHz","x":0.3997,"y":0.05},{"f":"28 MHz","x":0.403,"y":0.11},{"f":"28 MHz","x":0.4063,"y":0.07},{"f":"28 MHz","x":0.4096,"y":0.09},{"f":"28 MHz","x":0.4129,"y":0.16},{"f":"28 MHz","x":0.4162,"y":0.13},{"f":"28 MHz","x":0.4178,"y":0.26},{"f":"28 MHz","x":0.4211,"y":0.34},{"f":"28 MHz","x":0.4244,"y":0.3},{"f":"28 MHz","x":0.4277,"y":0.5},{"f":"28 MHz","x":0.431,"y":0.55},{"f":"28 MHz","x":0.4343,"y":0.49},{"f":"28 MHz","x":0.4376,"y":0.52},{"f":"28 MHz","x":0.4409,"y":0.59},{"f":"28 MHz","x":0.4442,"y":0.55},{"f":"28 MHz","x":0.4475,"y":0.67},{"f":"28 MHz","x":0.4508,"y":0.71},{"f":"28 MHz","x":0.4541,"y":0.75},{"f":"28 MHz","x":0.4574,"y":0.82},{"f":"28 MHz","x":0.4606,"y":0.79},{"f":"28 MHz","x":0.4639,"y":0.85},{"f":"28 MHz","x":0.4672,"y":0.79},{"f":"28 MHz","x":0.4705,"y":0.88},{"f":"28 MHz","x":0.4738,"y":0.82},{"f":"28 MHz","x":0.4765,"y":0.96},{"f":"28 MHz","x":0.4788,"y":0.83},{"f":"28 MHz","x":0.482,"y":0.75},{"f":"28 MHz","x":0.4853,"y":0.67},{"f":"28 MHz","x":0.4886,"y":0.59},{"f":"28 MHz","x":0.4919,"y":0.55},{"f":"28 MHz","x":0.4952,"y":0.63},{"f":"28 MHz","x":0.4985,"y":0.6},{"f":"28 MHz","x":0.5018,"y":0.5},{"f":"28 MHz","x":0.5051,"y":0.59},{"f":"28 MHz","x":0.5084,"y":0.52},{"f":"28 MHz","x":0.5117,"y":0.57},{"f":"28 MHz","x":0.515,"y":0.63},{"f":"28 MHz","x":0.5183,"y":0.59},{"f":"28 MHz","x":0.5216,"y":0.5},{"f":"28 MHz","x":0.5249,"y":0.59},{"f":"28 MHz","x":0.5282,"y":0.79},{"f":"28 MHz","x":0.5305,"y":0.75},{"f":"28 MHz","x":0.5331,"y":0.63},{"f":"28 MHz","x":0.5364,"y":0.71},{"f":"28 MHz","x":0.5397,"y":0.75},{"f":"28 MHz","x":0.543,"y":0.59},{"f":"28 MHz","x":0.5463,"y":0.5},{"f":"28 MHz","x":0.5496,"y":0.42},{"f":"28 MHz","x":0.5528,"y":0.34},{"f":"28 MHz","x":0.5561,"y":0.3},{"f":"28 MHz","x":0.5594,"y":0.26},{"f":"28 MHz","x":0.5627,"y":0.17},{"f":"28 MHz","x":0.566,"y":0.13},{"f":"28 MHz","x":0.5693,"y":0.07},{"f":"28 MHz","x":0.5726,"y":0.09},{"f":"28 MHz","x":0.5759,"y":0.01},{"f":"28 MHz","x":0.5792,"y":-0.03},{"f":"28 MHz","x":0.5825,"y":0.01},{"f":"28 MHz","x":0.5858,"y":-0.06},{"f":"28 MHz","x":0.5891,"y":0.05},{"f":"28 MHz","x":0.5924,"y":-0.03},{"f":"28 MHz","x":0.5957,"y":-0.09},{"f":"28 MHz","x":0.599,"y":0.02},{"f":"28 MHz","x":0.6022,"y":0.09},{"f":"28 MHz","x":0.6055,"y":-0.12},{"f":"28 MHz","x":0.6088,"y":-0.16},{"f":"28 MHz","x":0.6121,"y":-0.03},{"f":"28 MHz","x":0.6154,"y":-0.12},{"f":"28 MHz","x":0.6187,"y":-0.07},{"f":"28 MHz","x":0.622,"y":0.01},{"f":"28 MHz","x":0.6253,"y":-0.12},{"f":"28 MHz","x":0.6286,"y":-0.03},{"f":"28 MHz","x":0.6319,"y":-0.09},{"f":"28 MHz","x":0.6352,"y":-0.06},{"f":"28 MHz","x":0.6385,"y":0.01},{"f":"28 MHz","x":0.6418,"y":-0.01},{"f":"28 MHz","x":0.6451,"y":0.02},{"f":"28 MHz","x":0.65,"y":0.09}
],
"r":[
{"f":"184 MHz","x0":0.3697,"x1":0.3712,"y0":15.36,"y1":15.58},
{"f":"176 MHz","x0":0.3697,"x1":0.3712,"y0":14.36,"y1":14.58},
{"f":"168 MHz","x0":0.3697,"x1":0.3712,"y0":13.36,"y1":13.58},
{"f":"160 MHz","x0":0.3697,"x1":0.3712,"y0":12.36,"y1":12.58},
{"f":"152 MHz","x0":0.3697,"x1":0.3712,"y0":11.36,"y1":11.58},
{"f":"145 MHz","x0":0.3697,"x1":0.3712,"y0":10.36,"y1":10.58},
{"f":"137 MHz","x0":0.3697,"x1":0.3712,"y0":9.36,"y1":9.58},
{"f":"129 MHz","x0":0.3697,"x1":0.3712,"y0":8.36,"y1":8.58},
{"f":"121 MHz","x0":0.3697,"x1":0.3712,"y0":7.36,"y1":7.58},
{"f":"113 MHz","x0":0.3697,"x1":0.3712,"y0":6.36,"y1":6.58},
{"f":"67 MHz","x0":0.3697,"x1":0.373,"y0":5.36,"y1":5.58},
{"f":"60 MHz","x0":0.3697,"x1":0.373,"y0":4.36,"y1":4.58},
{"f":"52 MHz","x0":0.3697,"x1":0.3753,"y0":3.36,"y1":3.58},
{"f":"44 MHz","x0":0.3697,"x1":0.3779,"y0":2.36,"y1":2.58},
{"f":"36 MHz","x0":0.3697,"x1":0.3828,"y0":1.36,"y1":1.58},
{"f":"28 MHz","x0":0.3697,"x1":0.396,"y0":0.36,"y1":0.58}
],
"l":[
{"f":"1380 MHz","x":0.55,"y":17.31},{"f":"328 MHz","x":0.55,"y":16.31},{"f":"184 MHz","x":0.55,"y":15.31},{"f":"176 MHz","x":0.55,"y":14.31},{"f":"168 MHz","x":0.55,"y":13.31},{"f":"160 MHz","x":0.55,"y":12.31},{"f":"152 MHz","x":0.55,"y":11.31},{"f":"145 MHz","x":0.55,"y":10.31},{"f":"137 MHz","x":0.55,"y":9.31},{"f":"129 MHz","x":0.55,"y":8.31},{"f":"121 MHz","x":0.55,"y":7.31},{"f":"113 MHz","x":0.55,"y":6.31},{"f":"67 MHz","x":0.55,"y":5.31},{"f":"60 MHz","x":0.55,"y":4.31},{"f":"52 MHz","x":0.55,"y":3.31},{"f":"44 MHz","x":0.55,"y":2.31},{"f":"36 MHz","x":0.55,"y":1.31},{"f":"28 MHz","x":0.55,"y":0.31}
]
},
"layer":[
{"data":{"name":"p"},
 "transform":[{"filter":{"field":"f","oneOf":["1380 MHz","328 MHz","176 MHz","168 MHz","160 MHz","152 MHz","145 MHz","137 MHz","129 MHz","121 MHz","113 MHz"]}}],
 "mark":{"type":"line","interpolate":"monotone","strokeWidth":1.3,"clip":true},
 "encoding":{
  "x":{"field":"x","type":"quantitative","scale":{"domain":[0.35,0.65],"nice":false,"zero":false},
       "axis":{"orient":"bottom","values":[0.35,0.4,0.45,0.5,0.55,0.6],"format":".2f","title":"Spin Phase","tickSize":-5,"labelPadding":11,"domain":false,"grid":false,"tickColor":"black","labelFont":"DejaVu Sans","labelFontSize":13,"labelColor":"black","labelFlush":false,"labelOverlap":false,"titleFont":"DejaVu Sans","titleFontSize":13,"titleFontWeight":"normal","titleColor":"black","titlePadding":1}},
  "y":{"field":"y","type":"quantitative","scale":{"domain":[-0.322,18.315],"nice":false,"zero":false},"axis":null},
  "color":{"field":"f","type":"nominal","scale":{"domain":["1380 MHz","328 MHz","184 MHz","176 MHz","168 MHz","160 MHz","152 MHz","145 MHz","137 MHz","129 MHz","121 MHz","113 MHz","67 MHz","60 MHz","52 MHz","44 MHz","36 MHz","28 MHz"],"range":["#ff0000","#bf00bf","#0000ff","#0000ff","#0000ff","#0000ff","#0000ff","#0000ff","#0000ff","#0000ff","#0000ff","#0000ff","#008000","#008000","#008000","#008000","#008000","#008000"]},"legend":null}
 }},
{"data":{"name":"p"},
 "transform":[{"filter":{"field":"f","oneOf":["184 MHz","67 MHz","60 MHz","52 MHz","44 MHz","36 MHz","28 MHz"]}}],
 "mark":{"type":"line","strokeWidth":1.3,"clip":true},
 "encoding":{
  "x":{"field":"x","type":"quantitative","axis":{"orient":"top","values":[0.35,0.4,0.45,0.5,0.55,0.6],"labels":false,"title":null,"tickSize":-5,"domain":false,"grid":false,"tickColor":"black"}},
  "y":{"field":"y","type":"quantitative","axis":null},
  "color":{"field":"f","type":"nominal","legend":null}
 }},
{"data":{"name":"r"},
 "mark":{"type":"rect"},
 "encoding":{
  "x":{"field":"x0","type":"quantitative","axis":null},"x2":{"field":"x1"},
  "y":{"field":"y0","type":"quantitative","axis":null},"y2":{"field":"y1"},
  "color":{"field":"f","type":"nominal","legend":null}
 }},
{"data":{"name":"l"},
 "mark":{"type":"text","align":"left","baseline":"alphabetic","font":"DejaVu Sans","fontSize":17,"color":"black"},
 "encoding":{
  "x":{"field":"x","type":"quantitative","axis":null},
  "y":{"field":"y","type":"quantitative","axis":null},
  "text":{"field":"f"}
 }}
],
"resolve":{"axis":{"x":"independent"}}
}
